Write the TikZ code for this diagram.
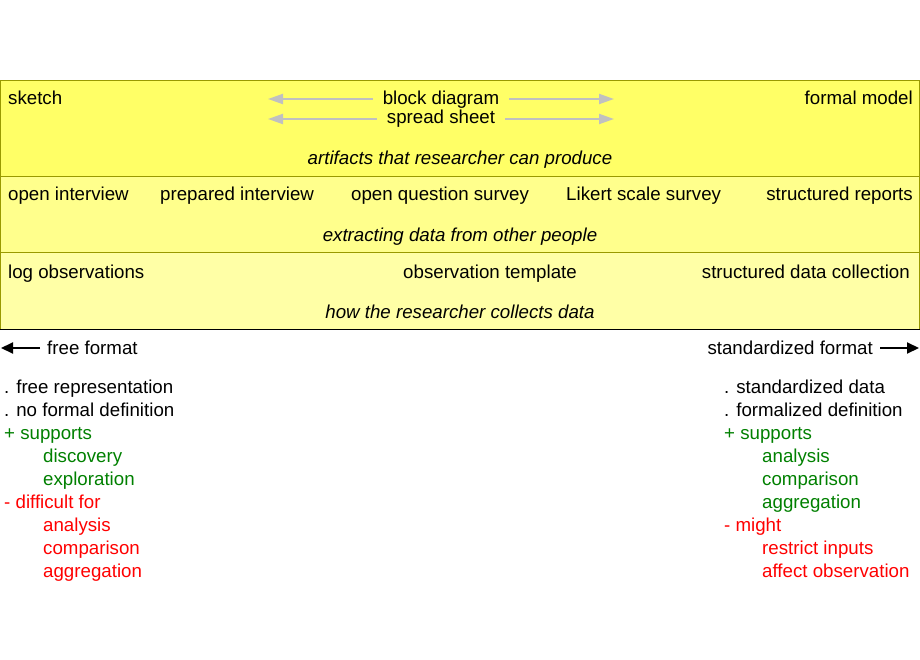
\documentclass[tikz,border=0pt]{standalone}
\usepackage{fontspec}
\setmainfont{Liberation Sans}
\usetikzlibrary{arrows.meta}
\definecolor{bandA}{HTML}{FFFF66}
\definecolor{bandB}{HTML}{FFFF8C}
\definecolor{bandC}{HTML}{FFFFA6}
\definecolor{bandline}{HTML}{999900}
\definecolor{pro}{HTML}{008000}
\definecolor{con}{HTML}{FF0000}
\definecolor{grayarr}{HTML}{C0C0C0}
\begin{document}
\begin{tikzpicture}[x=1pt,y=-1pt,
  every node/.style={inner sep=0pt, font=\fontsize{18.7}{23}\selectfont},
  lbl/.style={anchor=base west},
  rlbl/.style={anchor=base east},
  clbl/.style={anchor=base},
  captext/.style={anchor=base, font=\fontsize{18.7}{23}\selectfont\itshape},
  grayarrow/.style={draw=grayarr, line width=2pt, -{Triangle[length=15pt,width=10pt]}},
  blackarrow/.style={draw=black, line width=2pt, -{Triangle[length=12pt,width=11pt]}},
  protext/.style={lbl, text=pro},
  context/.style={lbl, text=con}]
\useasboundingbox (0,0) rectangle (920,660);
% bands
\fill[bandA] (0,80) rectangle (919.5,176);
\fill[bandB] (0,176) rectangle (919.5,252);
\fill[bandC] (0,252) rectangle (919.5,329);
\draw[bandline, line width=1pt] (0.5,329) -- (0.5,80.5) -- (919.5,80.5) -- (919.5,329);
\draw[bandline, line width=1pt] (0,176.5) -- (920,176.5);
\draw[bandline, line width=1pt] (0,252.5) -- (920,252.5);
\draw[black, line width=1pt] (0,329) -- (920,329);
% band 1
\node[lbl] (sk) at (8,105) {sketch};
\node[clbl] (bd) at (441,105) {block diagram};
\node[clbl] (ss) at (441,124) {spread sheet};
\node[rlbl] (fm) at (913,105) {formal model};
\node[captext] (art) at (460,165) {artifacts that researcher can produce};
\coordinate (bdL) at (268,99);
\coordinate (bdR) at (614,99);
\coordinate (ssL) at (268,119);
\coordinate (ssR) at (614,119);
\path ([xshift=-10pt]bd.mid west) coordinate (bdLs)
      ([xshift=10pt]bd.mid east) coordinate (bdRs)
      ([xshift=-10pt]ss.mid west) coordinate (ssLs)
      ([xshift=10pt]ss.mid east) coordinate (ssRs);
\draw[grayarrow] (bdLs |- bdL) -- (bdL);
\draw[grayarrow] (bdRs |- bdR) -- (bdR);
\draw[grayarrow] (ssLs |- ssL) -- (ssL);
\draw[grayarrow] (ssRs |- ssR) -- (ssR);
% band 2
\node[lbl] (oi) at (8,201) {open interview};
\node[lbl] (pi) at (160,201) {prepared interview};
\node[lbl] (oq) at (351,201) {open question survey};
\node[lbl] (lk) at (566,201) {Likert scale survey};
\node[rlbl] (sr) at (913,201) {structured reports};
\node[captext] (ext) at (460,242) {extracting data from other people};
% band 3
\node[lbl] (lo) at (8,278) {log observations};
\node[clbl] (ot) at (490,278) {observation template};
\node[rlbl] (sd) at (910,278) {structured data collection};
\node[captext] (how) at (460,318) {how the researcher collects data};
% format arrows
\node[lbl] (ff) at (47,354) {free format};
\node[rlbl] (sf) at (873,354) {standardized format};
\coordinate (ffL) at (1,348);
\coordinate (sfR) at (919,348);
\path ([xshift=-7pt]ff.mid west) coordinate (ffs)
      ([xshift=7pt]sf.mid east) coordinate (sfs);
\draw[blackarrow] (ffs |- ffL) -- (ffL);
\draw[blackarrow] (sfs |- sfR) -- (sfR);
% left list
\node[lbl] (l1) at (4,393) {. free representation};
\node[lbl] (l2) at (4,416) {. no formal definition};
\node[protext] (l3) at (4,439) {+ supports};
\node[protext] (l4) at (43,462) {discovery};
\node[protext] (l5) at (43,485) {exploration};
\node[context] (l6) at (4,508) {- difficult for};
\node[context] (l7) at (43,531) {analysis};
\node[context] (l8) at (43,554) {comparison};
\node[context] (l9) at (43,577) {aggregation};
% right list
\node[lbl] (r1) at (724,393) {. standardized data};
\node[lbl] (r2) at (724,416) {. formalized definition};
\node[protext] (r3) at (724,439) {+ supports};
\node[protext] (r4) at (762,462) {analysis};
\node[protext] (r5) at (762,485) {comparison};
\node[protext] (r6) at (762,508) {aggregation};
\node[context] (r7) at (724,531) {- might};
\node[context] (r8) at (762,554) {restrict inputs};
\node[context] (r9) at (762,577) {affect observation};
\end{tikzpicture}
\end{document}
